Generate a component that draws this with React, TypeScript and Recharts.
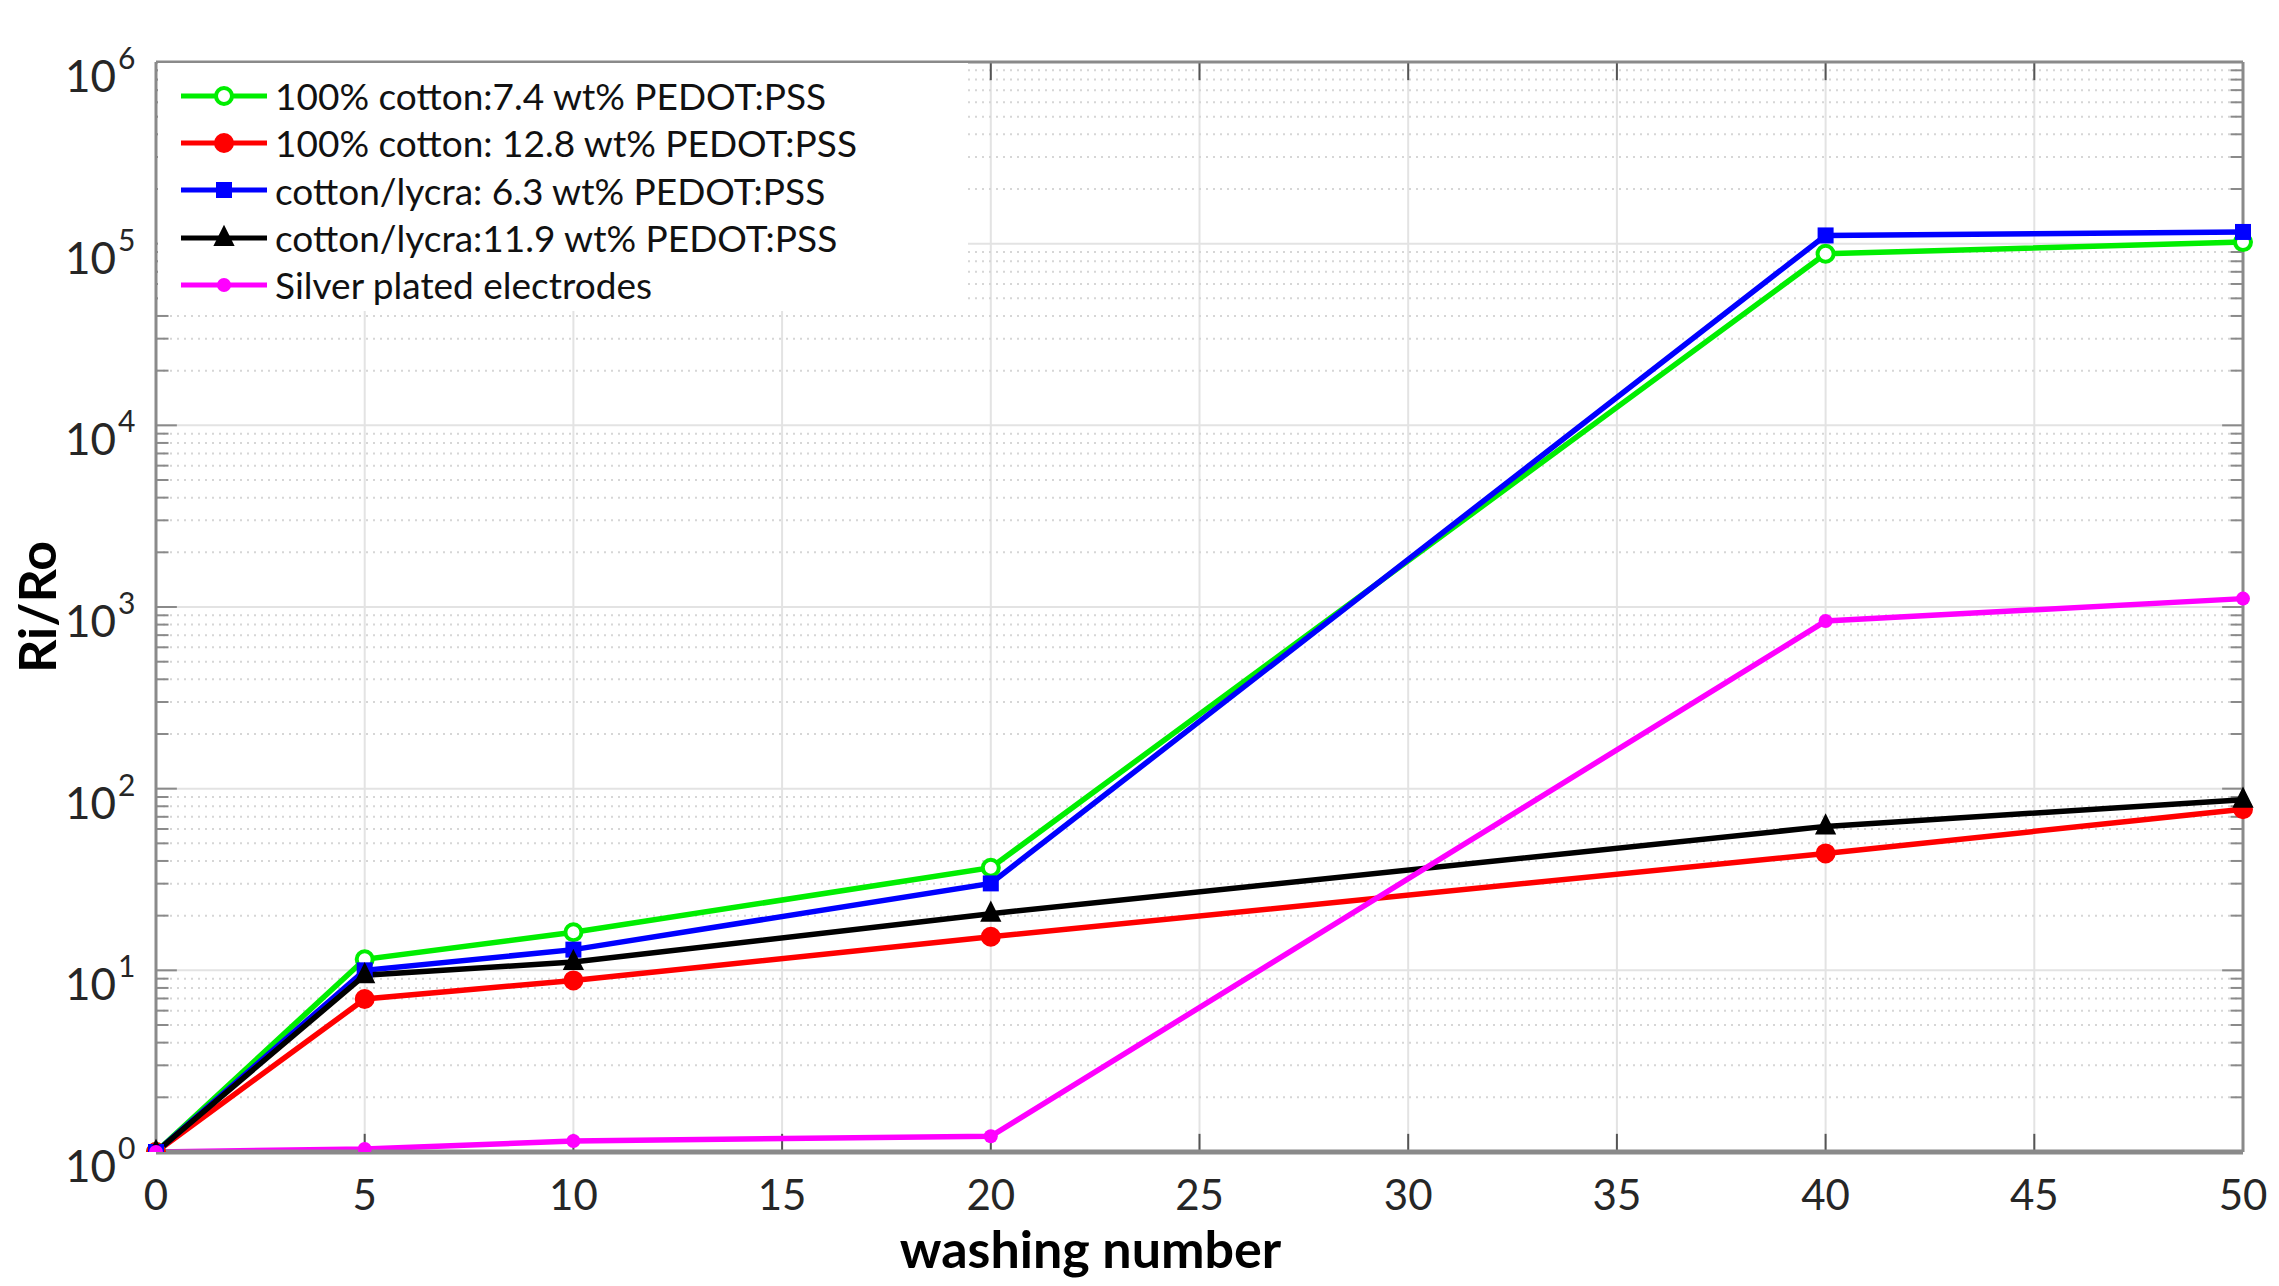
import {CartesianGrid, Legend, Line, LineChart, ReferenceLine, XAxis, YAxis} from 'recharts'

// washing cycles and resistance ratio Ri/Ro
const washes = [0, 5, 10, 20, 40, 50]
const cotton74 = [1, 11.5, 16.2, 36.7, 88000, 102000]
const cotton128 = [1, 6.95, 8.8, 15.3, 44, 77]
const lycra63 = [1, 10.0, 13.0, 30.1, 111000, 116000]
const lycra119 = [1, 9.4, 11.1, 20.5, 62, 87]
const silver = [1, 1.04, 1.15, 1.22, 837, 1112]

const xTicks = [0, 5, 10, 15, 20, 25, 30, 35, 40, 45, 50]
const yTicks = [1, 10, 100, 1000, 10000, 100000, 1000000]

const series = [
    {key: 'c74', name: '100% cotton:7.4 wt% PEDOT:PSS', color: '#00ee00', shape: 'openCircle', values: cotton74},
    {key: 'c128', name: '100% cotton: 12.8 wt% PEDOT:PSS', color: '#ff0000', shape: 'circle', values: cotton128},
    {key: 'l63', name: 'cotton/lycra: 6.3 wt% PEDOT:PSS', color: '#0000ff', shape: 'square', values: lycra63},
    {key: 'l119', name: 'cotton/lycra:11.9 wt% PEDOT:PSS', color: '#000000', shape: 'triangle', values: lycra119},
    {key: 'ag', name: 'Silver plated electrodes', color: '#ff00ff', shape: 'dot', values: silver},
]

const data = washes.map((x, i) => {
    const row: Record<string, number> = {x}
    series.forEach(s => { row[s.key] = s.values[i] })
    return row
})

// minor log ticks 2..9 of every decade
const minorTicks: number[] = []
for (let d = 0; d < 6; d++) for (let m = 2; m < 10; m++) minorTicks.push(m * Math.pow(10, d))

const FONT = 'Lato, "Open Sans", sans-serif'
const AXIS = '#8a8a8a'
const TEXT = '#262626'

function Marker({cx, cy, color, shape}: {cx: number; cy: number; color: string; shape: string}) {
    if (cx == null || cy == null) return null
    switch (shape) {
        case 'openCircle':
            return <circle cx={cx} cy={cy} r={8} fill="#fff" stroke={color} strokeWidth={4}/>
        case 'circle':
            return <circle cx={cx} cy={cy} r={9} fill={color} stroke={color} strokeWidth={2}/>
        case 'square':
            return <rect x={cx - 8} y={cy - 8} width={16} height={16} fill={color}/>
        case 'triangle':
            return <path d={`M${cx},${cy - 11} L${cx + 9},${cy + 7} L${cx - 9},${cy + 7} Z`} fill={color} stroke={color}
                         strokeWidth={2}/>
        default:
            return <circle cx={cx} cy={cy} r={7} fill={color}/>
    }
}

function YTick(props: any) {
    const {x, y, payload} = props
    const e = Math.round(Math.log10(payload.value))
    return (
        <g fontFamily={FONT} fill={TEXT}>
            <text x={x - 38} y={y + 30} textAnchor="end" fontSize={44}>10</text>
            <text x={x - 36} y={y + 7} textAnchor="start" fontSize={30}>{e}</text>
        </g>
    )
}

function XTick(props: any) {
    const {x, y, payload} = props
    return <text x={x} y={y + 56} textAnchor="middle" fontSize={42} fontFamily={FONT} fill={TEXT}>{payload.value}</text>
}

function LegendBox() {
    return (
        <div style={{background: '#fff', width: 810, height: 248, paddingTop: 9, boxSizing: 'border-box'}}>
            {series.map(s => (
                <div key={s.key} style={{display: 'flex', alignItems: 'center', height: 47.3}}>
                    <svg width={117} height={40} style={{flex: 'none'}}>
                        <line x1={23} y1={20} x2={109} y2={20} stroke={s.color} strokeWidth={5}/>
                        <Marker cx={66} cy={20} color={s.color} shape={s.shape}/>
                    </svg>
                    <span style={{fontFamily: FONT, fontSize: 37, color: '#111', whiteSpace: 'nowrap', lineHeight: 1}}>
                        {s.name}
                    </span>
                </div>
            ))}
        </div>
    )
}

export default function App() {
    return (
        <div style={{position: 'absolute', left: 0, top: 0, background: '#fff'}}>
            <LineChart width={2279} height={1286} data={data} margin={{top: 62, right: 36, left: 0, bottom: 0}}>
                <CartesianGrid stroke="#e3e3e3" strokeWidth={2}/>

                {minorTicks.map(v => (
                    <ReferenceLine key={`g${v}`} y={v} stroke="#d6d6d6" strokeWidth={2} strokeDasharray="2 5"/>
                ))}
                {minorTicks.map(v => (
                    <ReferenceLine key={`l${v}`} segment={[{x: 0, y: v}, {x: 0.3, y: v}]} stroke={AXIS} strokeWidth={2}/>
                ))}
                {minorTicks.map(v => (
                    <ReferenceLine key={`r${v}`} segment={[{x: 49.7, y: v}, {x: 50, y: v}]} stroke={AXIS} strokeWidth={2}/>
                ))}
                {yTicks.map(v => (
                    <ReferenceLine key={`L${v}`} segment={[{x: 0, y: v}, {x: 0.5, y: v}]} stroke={AXIS} strokeWidth={2}/>
                ))}
                {yTicks.map(v => (
                    <ReferenceLine key={`R${v}`} segment={[{x: 49.5, y: v}, {x: 50, y: v}]} stroke={AXIS} strokeWidth={2}/>
                ))}
                {xTicks.map(v => (
                    <ReferenceLine key={`B${v}`} segment={[{x: v, y: 1}, {x: v, y: Math.pow(10, 0.1)}]} stroke="#555"
                                   strokeWidth={2}/>
                ))}
                {xTicks.map(v => (
                    <ReferenceLine key={`T${v}`} segment={[{x: v, y: Math.pow(10, 5.9)}, {x: v, y: 1e6}]} stroke="#555"
                                   strokeWidth={2}/>
                ))}
                <ReferenceLine y={1e6} stroke={AXIS} strokeWidth={3}/>
                <ReferenceLine x={50} stroke={AXIS} strokeWidth={3}/>

                <XAxis
                    dataKey="x" type="number" domain={[0, 50]} ticks={xTicks} interval={0}
                    height={134} tickSize={0} tickLine={false} tick={<XTick/>}
                    axisLine={{stroke: AXIS, strokeWidth: 5}}
                    label={{
                        content: (p: any) => (
                            <text x={p.viewBox.x + p.viewBox.width / 2 - 109} y={p.viewBox.y + 116} textAnchor="middle"
                                  fontFamily={FONT} fontWeight={700} fontSize={52} fill="#000">washing number</text>
                        ),
                    }}
                />
                <YAxis
                    scale="log" domain={[1, 1e6]} ticks={yTicks} interval={0} allowDataOverflow
                    width={156} tickSize={0} tickLine={false} tick={<YTick/>}
                    axisLine={{stroke: AXIS, strokeWidth: 3}}
                    label={{
                        content: (p: any) => {
                            const cx = p.viewBox.x + 36
                            const cy = p.viewBox.y + p.viewBox.height / 2
                            return (
                                <text x={cx} y={cy} transform={`rotate(-90 ${cx} ${cy})`} textAnchor="middle"
                                      dominantBaseline="central" fontFamily={FONT} fontWeight={700} fontSize={52}
                                      fill="#000">Ri/Ro</text>
                            )
                        },
                    }}
                />

                {series.map(s => (
                    <Line key={s.key} type="linear" dataKey={s.key} name={s.name} stroke={s.color} strokeWidth={5.5}
                          isAnimationActive={false}
                          dot={(p: any) => <Marker key={`${s.key}-${p.index}`} cx={p.cx} cy={p.cy} color={s.color}
                                                   shape={s.shape}/>}
                          activeDot={false}/>
                ))}

                <Legend layout="vertical" align="center" verticalAlign="middle" content={<LegendBox/>}
                        wrapperStyle={{left: 158, top: 63, width: 810, height: 248}}/>
            </LineChart>
        </div>
    )
}
